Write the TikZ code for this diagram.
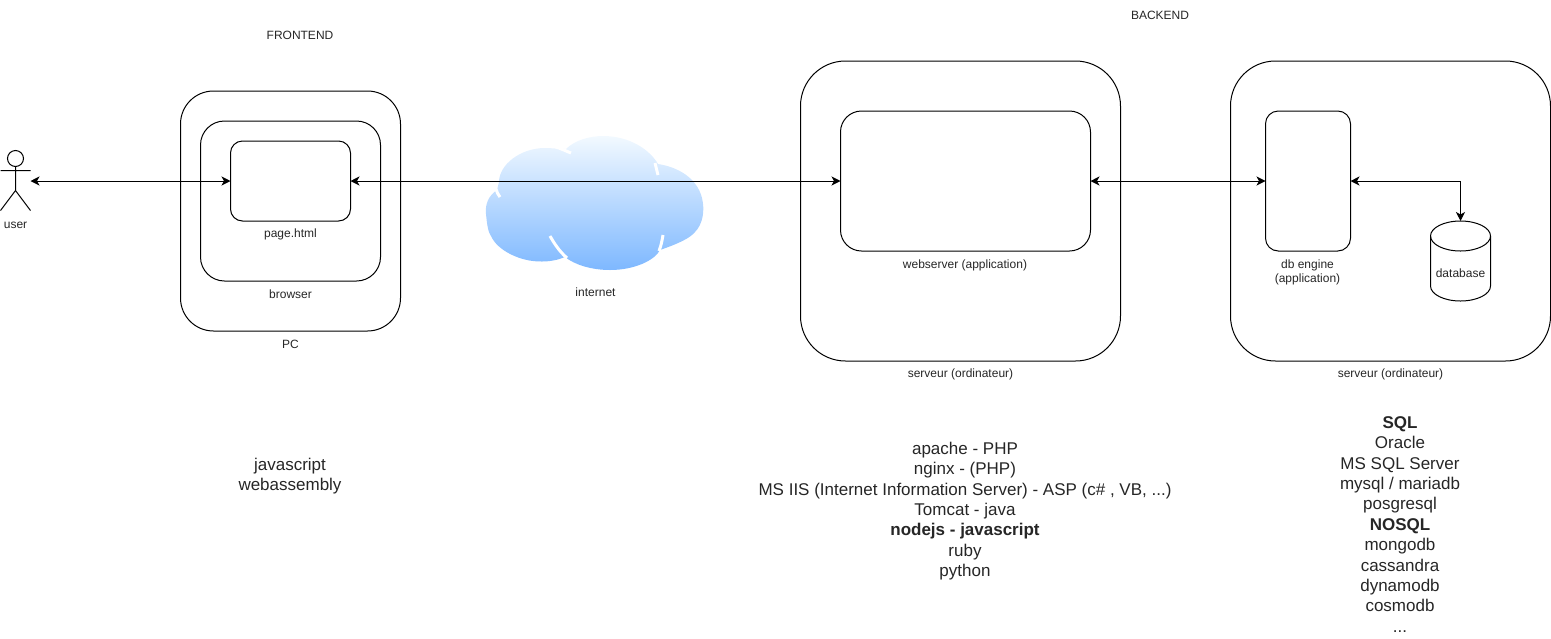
\documentclass[tikz,border=0pt]{standalone}
\usepackage{fontspec}
\setmainfont{Liberation Sans}
\usetikzlibrary{arrows.meta,calc}
\definecolor{txt}{HTML}{262626}
\definecolor{cloudtop}{RGB}{242,249,255}
\definecolor{cloudbot}{RGB}{126,184,255}
\tikzset{
  x=1pt,y=-1pt,
  every node/.style={inner sep=0pt,outer sep=0pt,text=txt},
  box/.style={draw=black,line width=1pt,fill=none,minimum width=#1},
  lab/.style={font=\fontsize{12}{14}\selectfont,align=center},
  big/.style={font=\fontsize{17}{20.4}\selectfont,align=center},
  link/.style={line width=1pt,draw=black,{Stealth[length=9pt,width=9pt,inset=2.5pt]}-{Stealth[length=9pt,width=9pt,inset=2.5pt]}},
  whitecut/.style={draw=white,line width=3pt}
}
\begin{document}
\begin{tikzpicture}
\useasboundingbox (0,0) rectangle (1551,638);
% cloud
\shade[top color=cloudtop,bottom color=cloudbot]
  (497,190) .. controls (488,196) and (485,205) .. (486,214)
  .. controls (487,224) and (488,232) .. (491,236)
  .. controls (497,250) and (520,262) .. (542,261.5)
  .. controls (550,261.5) and (558,260) .. (565,257)
  .. controls (575,265) and (592,270) .. (610,270)
  .. controls (635,270) and (655,260) .. (660,250)
  .. controls (680,243) and (690,238) .. (695,232)
  .. controls (703,224) and (705,210) .. (702,198)
  .. controls (697,178) and (678,167) .. (658,164)
  .. controls (650,150) and (630,136) .. (603,136)
  .. controls (590,136) and (575,140) .. (566,149)
  .. controls (558,149) and (552,148) .. (545,148)
  .. controls (520,148) and (499,165) .. (499,182)
  -- cycle;
\draw[whitecut] (550,236) .. controls (554,243) and (559,251) .. (567,258);
\draw[whitecut] (663,235) .. controls (662,241) and (661,246) .. (659,251);
\draw[whitecut] (658,175) .. controls (657,171) and (656,167) .. (655,163);
\draw[whitecut] (571,153) .. controls (566,151) and (562,149) .. (556,147);
\draw[whitecut] (496,189) .. controls (497,192) and (498,195) .. (500,197);
% boxes
\node[box=220pt,minimum height=240pt,rounded corners=33pt] (pc) at (290.5,211) {};
\node[box=180pt,minimum height=160pt,rounded corners=24pt] (browser) at (290.5,201) {};
\node[box=120pt,minimum height=80pt,rounded corners=12pt] (page) at (290.5,181) {};
\node[box=320pt,minimum height=300pt,rounded corners=45pt] (srvA) at (960.5,211) {};
\node[box=250pt,minimum height=140pt,rounded corners=21pt] (web) at (965.5,181) {};
\node[box=320pt,minimum height=300pt,rounded corners=45pt] (srvB) at (1390.5,211) {};
\node[box=85pt,minimum height=140pt,rounded corners=12.75pt] (engine) at (1308,181) {};
% user
\node[minimum width=30pt,minimum height=60pt] (user) at (15.5,181) {};
\draw[line width=1pt] (15.5,158.5) circle[radius=8pt];
\draw[line width=1pt] (15.5,166.5) -- (15.5,190.5) (0.5,170.5) -- (30.5,170.5) (0.5,210.5) -- (15.5,190.5) -- (30.5,210.5);
% database
\node[minimum width=60pt,minimum height=80pt] (db) at (1460.5,261) {};
\draw[line width=1pt] ($(db.north west)+(0,15)$) arc[x radius=30pt,y radius=15pt,start angle=180,end angle=0]
  -- ++(0,50) arc[x radius=30pt,y radius=15pt,start angle=0,end angle=-180] -- cycle;
\draw[line width=1pt] ($(db.north west)+(0,15)$) arc[x radius=30pt,y radius=15pt,start angle=180,end angle=360];
% connectors
\draw[link] (user.east) -- (page.west);
\draw[link] (page.east) -- (web.west);
\draw[link] (web.east) -- (engine.west);
\draw[link] (engine.east) -| (db.north);
% labels
\node[lab] (lfront) at (300,35) {FRONTEND};
\node[lab] (lback) at (1160,15.5) {BACKEND};
\node[lab] (luser) at (15.5,225) {user};
\node[lab] (lpage) at (290.5,234.5) {page.html};
\node[lab] (lbrowser) at (290.5,294.5) {browser};
\node[lab] (lpc) at (290.5,344.5) {PC};
\node[lab] (lnet) at (595.5,292.5) {internet};
\node[lab] (lweb) at (965,265) {webserver (application)};
\node[lab] (lsrvA) at (960.5,374.5) {serveur (ordinateur)};
\node[lab] (lsrvB) at (1390.5,374.5) {serveur (ordinateur)};
\node[lab] (lengine) at (1307.5,272) {db engine\\(application)};
\node[lab] (ldb) at (1460.5,273.5) {database};
\node[big,anchor=north] (lfrontlist) at (290,458) {javascript\\webassembly};
\node[big,anchor=north] (lwebl) at (965,442) {apache - PHP\\nginx - (PHP)\\MS IIS (Internet Information Server) - ASP (c\# , VB, ...)\\Tomcat - java\\\textbf{nodejs - javascript}\\ruby\\python};
\node[big,anchor=north] (ldbl) at (1400,416.5) {\textbf{SQL}\\Oracle\\MS SQL Server\\mysql / mariadb\\posgresql\\\textbf{NOSQL}\\mongodb\\cassandra\\dynamodb\\cosmodb\\...};
\end{tikzpicture}
\end{document}
